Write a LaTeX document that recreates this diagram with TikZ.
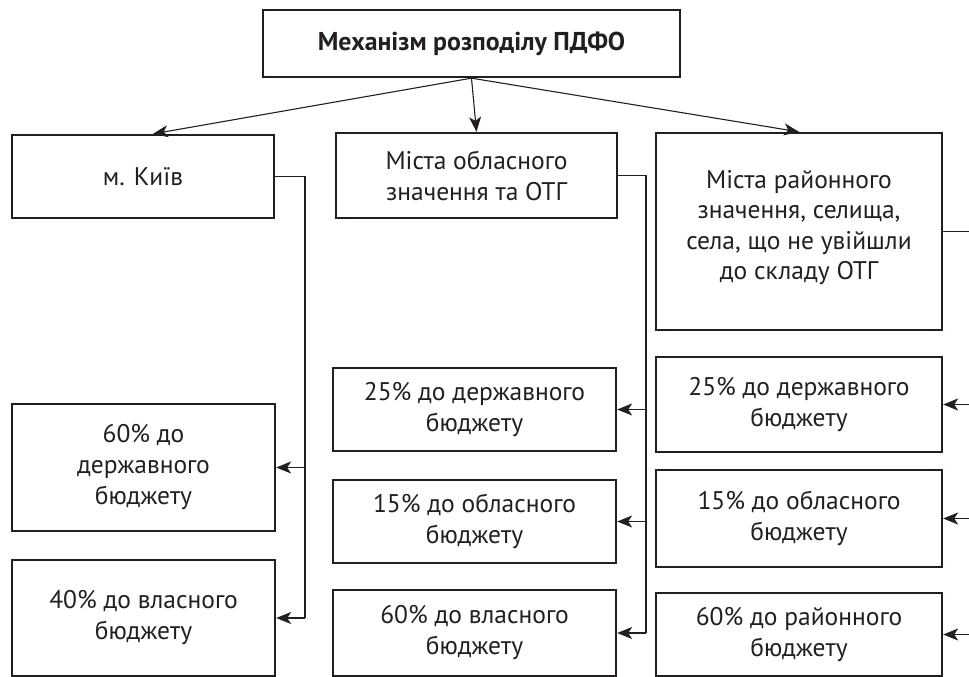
\documentclass[tikz,border=0pt]{standalone}
\usepackage{fontspec}
\setmainfont{PT Sans}
\usetikzlibrary{arrows.meta,calc}
\definecolor{ink}{HTML}{231F20}
\begin{document}
\begin{tikzpicture}[x=1pt,y=-1pt,
  box/.style={draw=ink, line width=2.3pt, rectangle, inner sep=0pt, align=center,
    text=ink, font=\fontsize{25.5}{31}\selectfont},
  txt/.style={inner sep=0pt, align=center, text=ink, font=\fontsize{25.5}{30.5}\selectfont},
  conn/.style={draw=ink, line width=1.1pt},
  arr/.style={conn, -{Stealth[length=15pt,width=12pt,inset=4pt]}}]
\useasboundingbox (0,0) rectangle (969,677);
\node[box, minimum width=417, minimum height=67, font=\bfseries\fontsize{25.8}{31}\selectfont] (top) at (471.5,43.5) {Механізм розподілу ПДФО};
\node[box, minimum width=262, minimum height=83] (kyiv) at (143,176.5) {м. Київ};
\node[box, minimum width=281, minimum height=85] (mid) at (476.5,175.5) {Міста обласного\\значення та ОТГ};
\node[box, minimum width=286, minimum height=197] (rt) at (799,231.5) {};
\node[txt] (rttext) at ([yshift=4pt]rt.center) {Міста районного\\значення, селища,\\села, що не увійшли\\до складу ОТГ};
\node[box, minimum width=263, minimum height=127] (kb1) at (143.5,467.5) {60\% до\\державного\\бюджету};
\node[box, minimum width=263, minimum height=116] (kb2) at (143.5,618) {40\% до власного\\бюджету};
\node[box, minimum width=283, minimum height=83] (mb1) at (474.5,409.5) {25\% до державного\\бюджету};
\node[box, minimum width=283, minimum height=83] (mb2) at (474.5,521.5) {15\% до обласного\\бюджету};
\node[box, minimum width=283, minimum height=86] (mb3) at (474.5,633) {60\% до власного\\бюджету};
\node[box, minimum width=286, minimum height=95] (rb1) at (799,404.5) {25\% до державного\\бюджету};
\node[box, minimum width=286, minimum height=97] (rb2) at (799,518.5) {15\% до обласного\\бюджету};
\node[box, minimum width=286, minimum height=83] (rb3) at (799,634.5) {60\% до районного\\бюджету};
% top arrows
\draw[arr] (top.south) -- ([xshift=10pt]kyiv.north);
\draw[arr] (top.south) -- (mid.north);
\draw[arr] (top.south) -- (rt.north);
% Kyiv branch
\coordinate (kx) at (305,0);
\draw[conn] (kyiv.east) -| (kx |- kb2.east);
\draw[arr] (kx |- kb1.east) -- (kb1.east);
\draw[arr] (kx |- kb2.east) -- (kb2.east);
% middle branch
\coordinate (mx) at (646,0);
\draw[conn] (mid.east) -| (mx |- mb3.east);
\draw[arr] (mx |- mb1.east) -- (mb1.east);
\draw[arr] (mx |- mb2.east) -- (mb2.east);
\draw[arr] (mx |- mb3.east) -- (mb3.east);
% right branch (lines run off the right edge)
\coordinate (rx) at (969,0);
\draw[conn] (rt.east) -- (rx |- rt.east);
\draw[arr] (rx |- rb1.east) -- (rb1.east);
\draw[arr] (rx |- rb2.east) -- (rb2.east);
\draw[arr] (rx |- rb3.east) -- (rb3.east);
\end{tikzpicture}
\end{document}
